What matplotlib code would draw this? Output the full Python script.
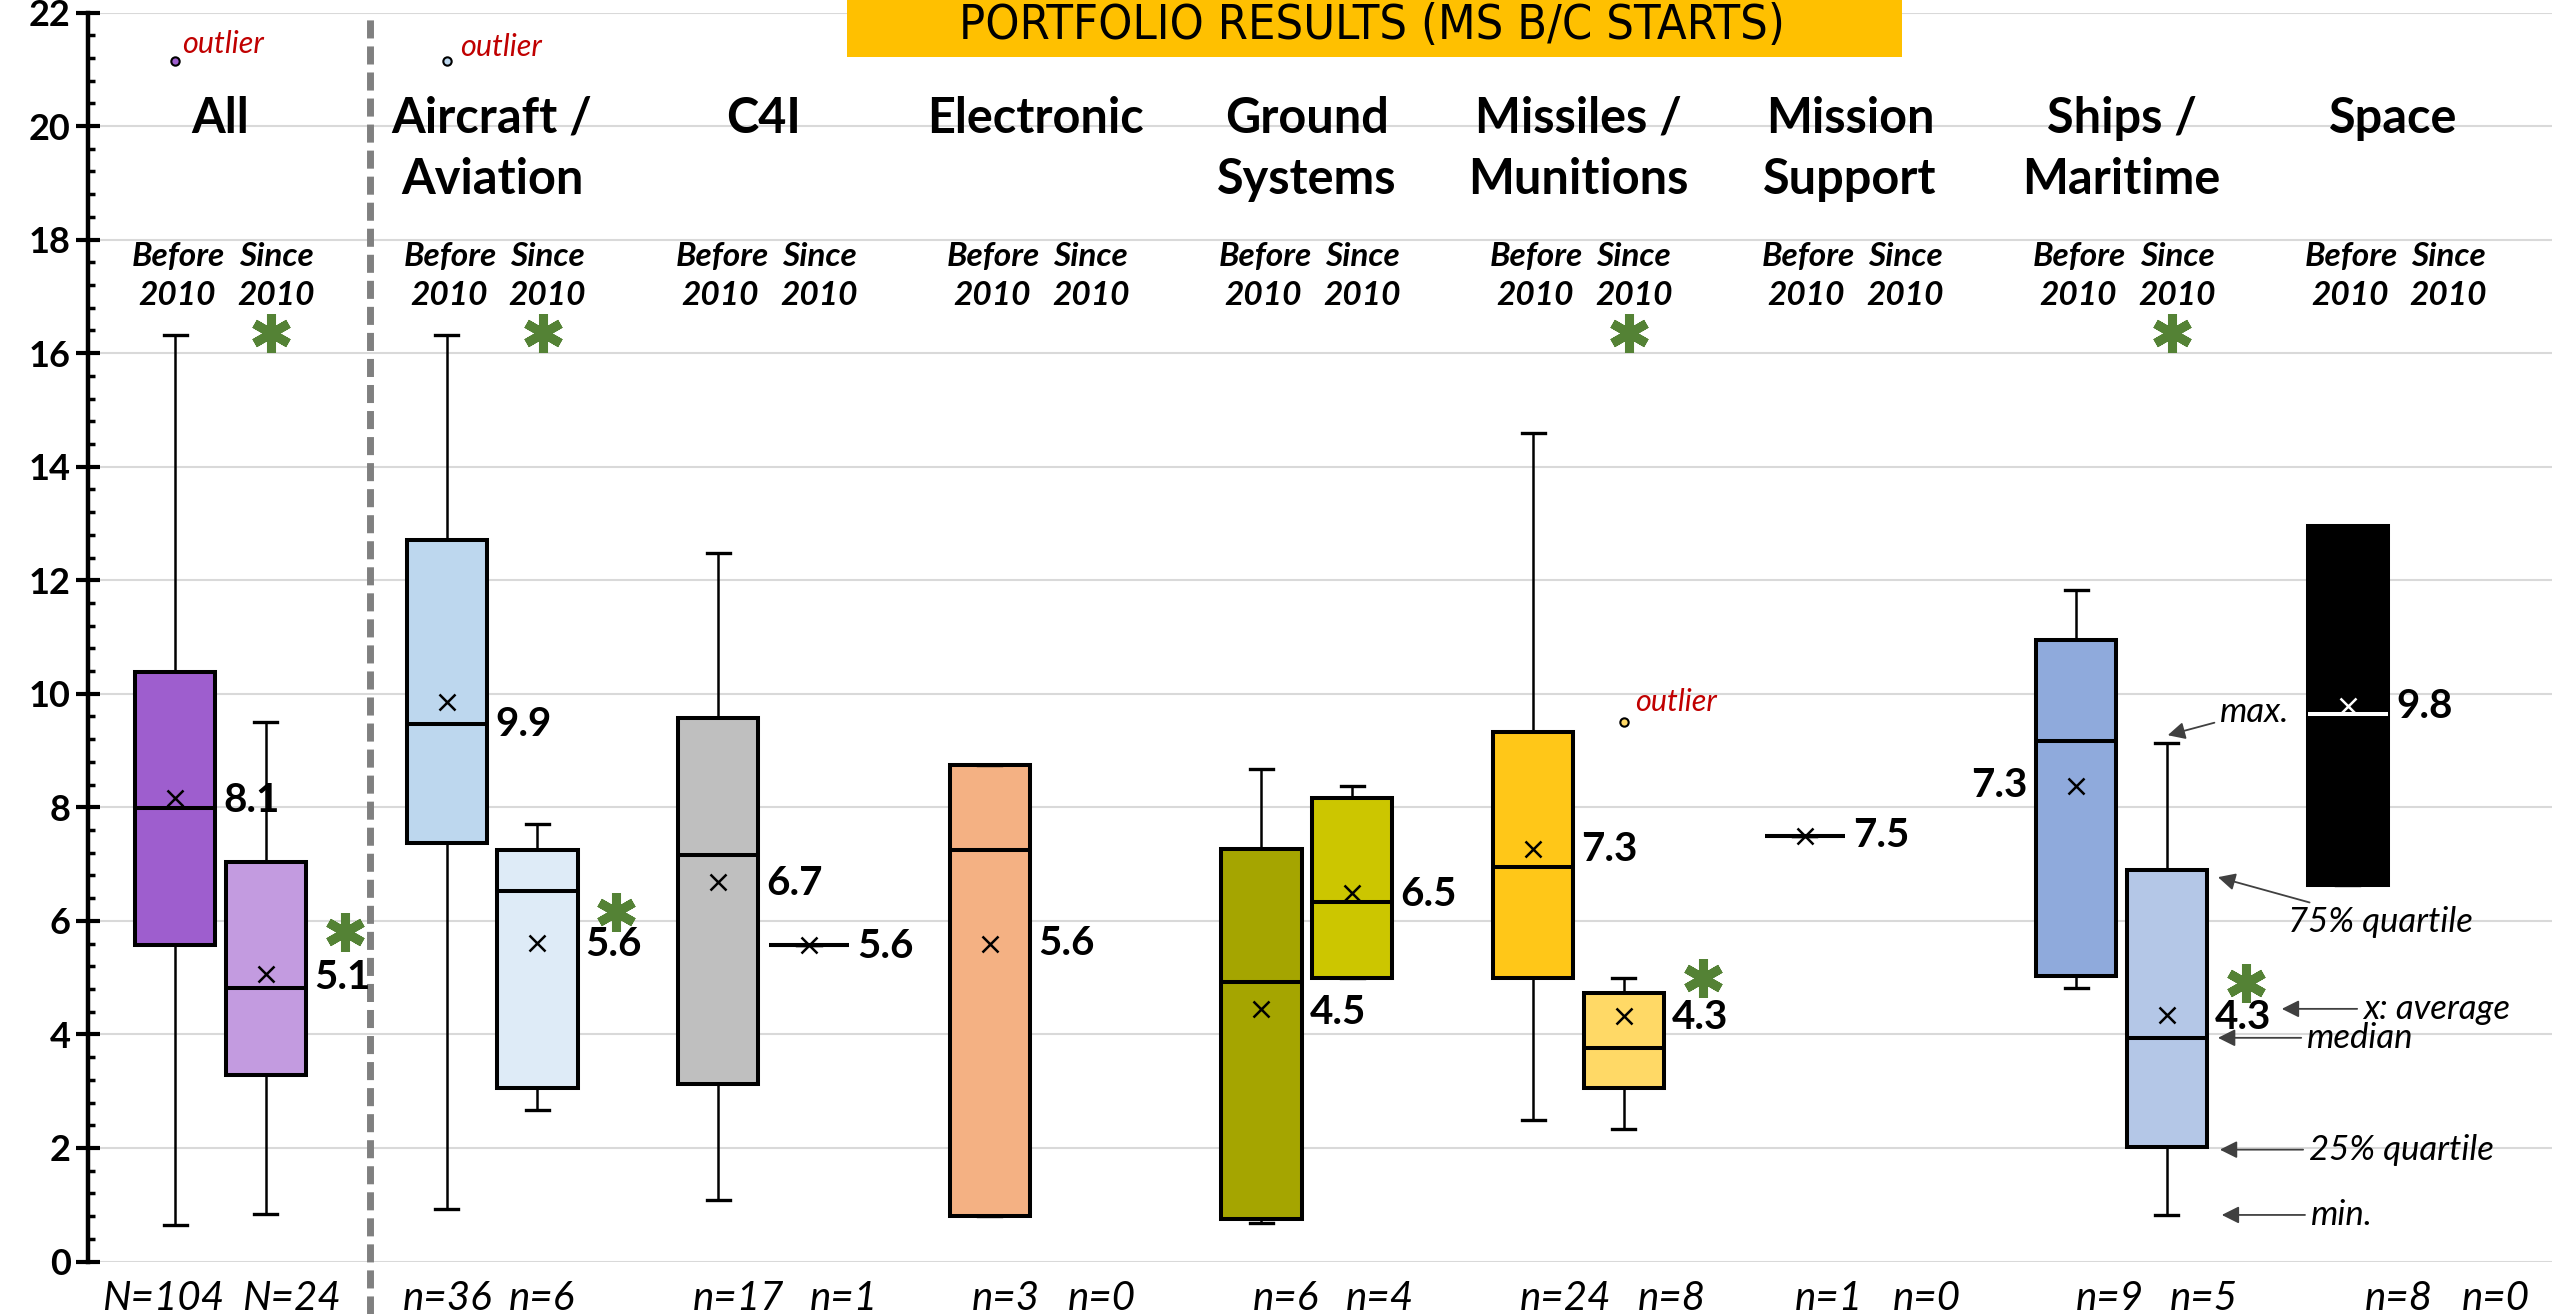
import matplotlib
matplotlib.use('Agg')
import matplotlib.pyplot as plt
from matplotlib.patches import Rectangle
from matplotlib.ticker import MultipleLocator

plt.rcParams['font.family'] = ['Lato', 'DejaVu Sans']

# ---------------------------------------------------------------- data
head_1 = ['All', 'Aircraft /', 'C4I', 'Electronic', 'Ground', 'Missiles /', 'Mission', 'Ships /', 'Space']
head_2 = ['', 'Aviation', '', '', 'Systems', 'Munitions', 'Support', 'Maritime', '']

# before 2010
b_lo   = [0.65, 0.92, 1.08, 0.81, 0.67, 2.50, 7.49, 4.82, 6.64]
b_q1   = [5.57, 7.38, 3.12, 0.81, 0.74, 4.99, 7.49, 5.03, 6.64]
b_med  = [7.99, 9.46, 7.16, 7.25, 4.92, 6.94, 7.49, 9.17, 9.65]
b_q3   = [10.39, 12.70, 9.57, 8.74, 7.27, 9.33, 7.49, 10.94, 12.96]
b_hi   = [16.32, 16.32, 12.48, 8.74, 8.68, 14.59, 7.49, 11.83, 12.96]
b_mean = [8.16, 9.85, 6.68, 5.60, 4.45, 7.26, 7.49, 8.37, 9.78]
b_out  = [[21.14], [21.14], [], [], [], [], [], [], []]
b_lab  = ['8.1', '9.9', '6.7', '5.6', '4.5', '7.3', '7.5', '7.3', '9.8']
b_lab_y = [8.12, 9.45, 6.66, 5.60, 4.38, 7.25, 7.51, 8.38, 9.77]
b_n    = ['N=104', 'n=36', 'n=17', 'n=3', 'n=6', 'n=24', 'n=1', 'n=9', 'n=8']
b_col  = ['#9E5ECE', '#BDD7EE', '#BFBFBF', '#F4B183', '#A5A500', '#FFC718', 'black', '#8FAADC', 'black']

# since 2010 (None = no programs)
s_lo   = [0.83, 2.67, 5.57, None, 4.99, 2.34, None, 0.82, None]
s_q1   = [3.28, 3.06, 5.57, None, 4.99, 3.06, None, 2.02, None]
s_med  = [4.82, 6.52, 5.57, None, 6.33, 3.76, None, 3.93, None]
s_q3   = [7.04, 7.25, 5.57, None, 8.16, 4.73, None, 6.90, None]
s_hi   = [9.50, 7.70, 5.57, None, 8.37, 4.99, None, 9.14, None]
s_mean = [5.07, 5.61, 5.57, None, 6.49, 4.33, None, 4.35, None]
s_out  = [[], [], [], [], [], [9.50], [], [], []]
s_lab  = ['5.1', '5.6', '5.6', None, '6.5', '4.3', None, '4.3', None]
s_lab_y = [5.01, 5.59, 5.54, None, 6.46, 4.29, None, 4.30, None]
s_n    = ['N=24', 'n=6', 'n=1', 'n=0', 'n=4', 'n=8', 'n=0', 'n=5', 'n=0']
s_col  = ['#C39BE0', '#DEEBF7', '#BFBFBF', None, '#CCC600', '#FFD966', None, '#B4C7E7', None]

# significant change since 2010
sig      = [True, True, False, False, False, True, False, True, False]
sig_y    = [5.81, 6.16, None, None, None, 4.99, None, 4.90, None]

# x of the n= labels
b_n_x = [-0.212, 0.838, 1.906, 2.893, 3.924, 4.951, 5.923, 6.957, 8.021]
s_n_x = [0.260, 1.184, 2.296, 3.246, 4.270, 5.345, 6.284, 7.303, 8.378]

# ---------------------------------------------------------------- figure
fig = plt.figure(figsize=(25.52, 13.14), dpi=100)
ax = fig.add_axes([88 / 2552, 1 - 1261.5 / 1314, 1 - 88 / 2552, 1249 / 1314])
ax.set_xlim(-0.488, 8.585)
ax.set_ylim(0, 22)

OFF = 0.167
W = 0.295
CW = 0.085
GAP = 0.03


def draw_box(x, lo, q1, med, q3, hi, mean, fliers, color, dark=False):
    line = 'white' if dark else 'black'
    st = [dict(med=med, q1=q1, q3=q3, whislo=lo, whishi=hi, mean=mean, fliers=fliers)]
    ax.bxp(st, positions=[x], widths=[W], capwidths=[CW], patch_artist=True,
           showmeans=True, manage_ticks=False,
           boxprops=dict(facecolor=color, edgecolor='black', linewidth=2.9),
           medianprops=dict(color=line, linewidth=2.9, solid_capstyle='butt'),
           whiskerprops=dict(color='black', linewidth=1.8),
           capprops=dict(color='black', linewidth=2.4),
           meanprops=dict(marker='x', markeredgecolor=line, markersize=12,
                          markeredgewidth=1.8, linestyle='none'),
           flierprops=dict(marker='o', markerfacecolor=color, markeredgecolor='black',
                           markersize=6, markeredgewidth=1.5))


for i in range(9):
    xb = i - OFF
    xs = i + OFF
    draw_box(xb, b_lo[i], b_q1[i], b_med[i], b_q3[i], b_hi[i], b_mean[i], b_out[i],
             b_col[i], dark=(head_1[i] == 'Space'))
    if s_med[i] is not None:
        draw_box(xs, s_lo[i], s_q1[i], s_med[i], s_q3[i], s_hi[i], s_mean[i], s_out[i], s_col[i])

    # mean labels
    if head_1[i] == 'Ships /':
        ax.text(xb - W / 2 - GAP, b_lab_y[i], b_lab[i], ha='right', va='center',
                fontsize=29, fontweight='bold')
    else:
        ax.text(xb + W / 2 + GAP, b_lab_y[i], b_lab[i], ha='left', va='center',
                fontsize=29, fontweight='bold')
    if s_lab[i] is not None:
        ax.text(xs + W / 2 + GAP, s_lab_y[i], s_lab[i], ha='left', va='center',
                fontsize=29, fontweight='bold')

    # headers
    ax.text(i, 19.88, head_1[i], ha='center', va='baseline', fontsize=35, fontweight='bold')
    if head_2[i]:
        ax.text(i, 18.81, head_2[i], ha='center', va='baseline', fontsize=35, fontweight='bold')
    sub = dict(ha='center', va='baseline', fontsize=24, style='italic', fontweight='bold')
    ax.text(xb + 0.013, 17.54, 'Before', **sub)
    ax.text(xs + 0.037, 17.54, 'Since', **sub)
    ax.text(xb + 0.007, 16.85, '2010', **sub)
    ax.text(xs + 0.037, 16.85, '2010', **sub)

    # n labels under the axis
    ax.text(b_n_x[i], -0.66, b_n[i], ha='center', va='center', fontsize=29,
            style='italic', clip_on=False)
    ax.text(s_n_x[i], -0.66, s_n[i], ha='center', va='center', fontsize=29,
            style='italic', clip_on=False)

    # significance stars
    if sig[i]:
        ax.plot([xs + 0.02], [16.36], marker=(6, 2, 0), ms=28, mew=6.5,
                color='#548235', clip_on=False, zorder=5)
        ax.plot([xs + 0.29], [sig_y[i]], marker=(6, 2, 0), ms=28, mew=6.5,
                color='#548235', clip_on=False, zorder=5)

# outlier notes
red = '#C00000'
ax.text(0.0 - OFF + 0.025, 21.29, 'outlier', color=red, style='italic', fontsize=22, va='baseline')
ax.text(1.0 - OFF + 0.05, 21.24, 'outlier', color=red, style='italic', fontsize=22, va='baseline')
ax.text(5.0 + OFF + 0.04, 9.70, 'outlier', color=red, style='italic', fontsize=22, va='baseline')

# separator between "All" and the portfolios
ax.plot([0.55, 0.55], [-0.042, 0.9964], transform=ax.get_xaxis_transform(),
        color='#808080', lw=5, dashes=(2.6, 1.15), clip_on=False, zorder=1)

# how to read a box (on Ships since 2010)
arr = dict(arrowstyle='-|>', color='#404040', lw=1.3, mutation_scale=26,
           shrinkA=2, shrinkB=0)
notes = [('max.', (7.170, 9.27), (7.362, 9.68)),
         ('75% quartile', (7.355, 6.77), (7.612, 5.98)),
         ('x: average', (7.590, 4.45), (7.888, 4.45)),
         ('median', (7.355, 3.94), (7.682, 3.94)),
         ('25% quartile', (7.362, 1.97), (7.689, 1.97)),
         ('min.', (7.369, 0.82), (7.696, 0.82))]
for txt, tip, pos in notes:
    ax.annotate(txt, xy=tip, xytext=pos, ha='left', va='center', fontsize=25,
                style='italic', arrowprops=arr, annotation_clip=False)

# axes styling
for s in ['top', 'right', 'bottom']:
    ax.spines[s].set_visible(False)
ax.spines['left'].set_linewidth(3.2)
ax.set_xticks([])
ax.yaxis.set_major_locator(MultipleLocator(2))
ax.yaxis.set_minor_locator(MultipleLocator(0.4))
ax.tick_params(axis='y', which='major', direction='inout', length=17, width=3,
               labelsize=26, pad=4)
ax.tick_params(axis='y', which='minor', direction='in', length=5, width=2.5)
for lab in ax.get_yticklabels():
    lab.set_fontweight('bold')
ax.grid(axis='y', color='#D9D9D9', lw=1.5)
ax.set_axisbelow(True)

# title banner
fig.add_artist(Rectangle((847 / 2552, 1 - 57 / 1314), (1902 - 847) / 2552, 57 / 1314,
                         transform=fig.transFigure, facecolor='#FFC000', edgecolor='none',
                         zorder=3))
title = fig.text((960 + 1784) / 2 / 2552, 1 - 2 / 1314, 'PORTFOLIO RESULTS (MS B/C STARTS)',
                 ha='center', va='top', fontsize=40, family='DejaVu Sans',
                 fontstretch='condensed', color='black', zorder=4)
r = fig.canvas.get_renderer()
w = title.get_window_extent(r).width
title.set_fontsize(40 * 824 / w)

fig.savefig('out.png', dpi=100)
